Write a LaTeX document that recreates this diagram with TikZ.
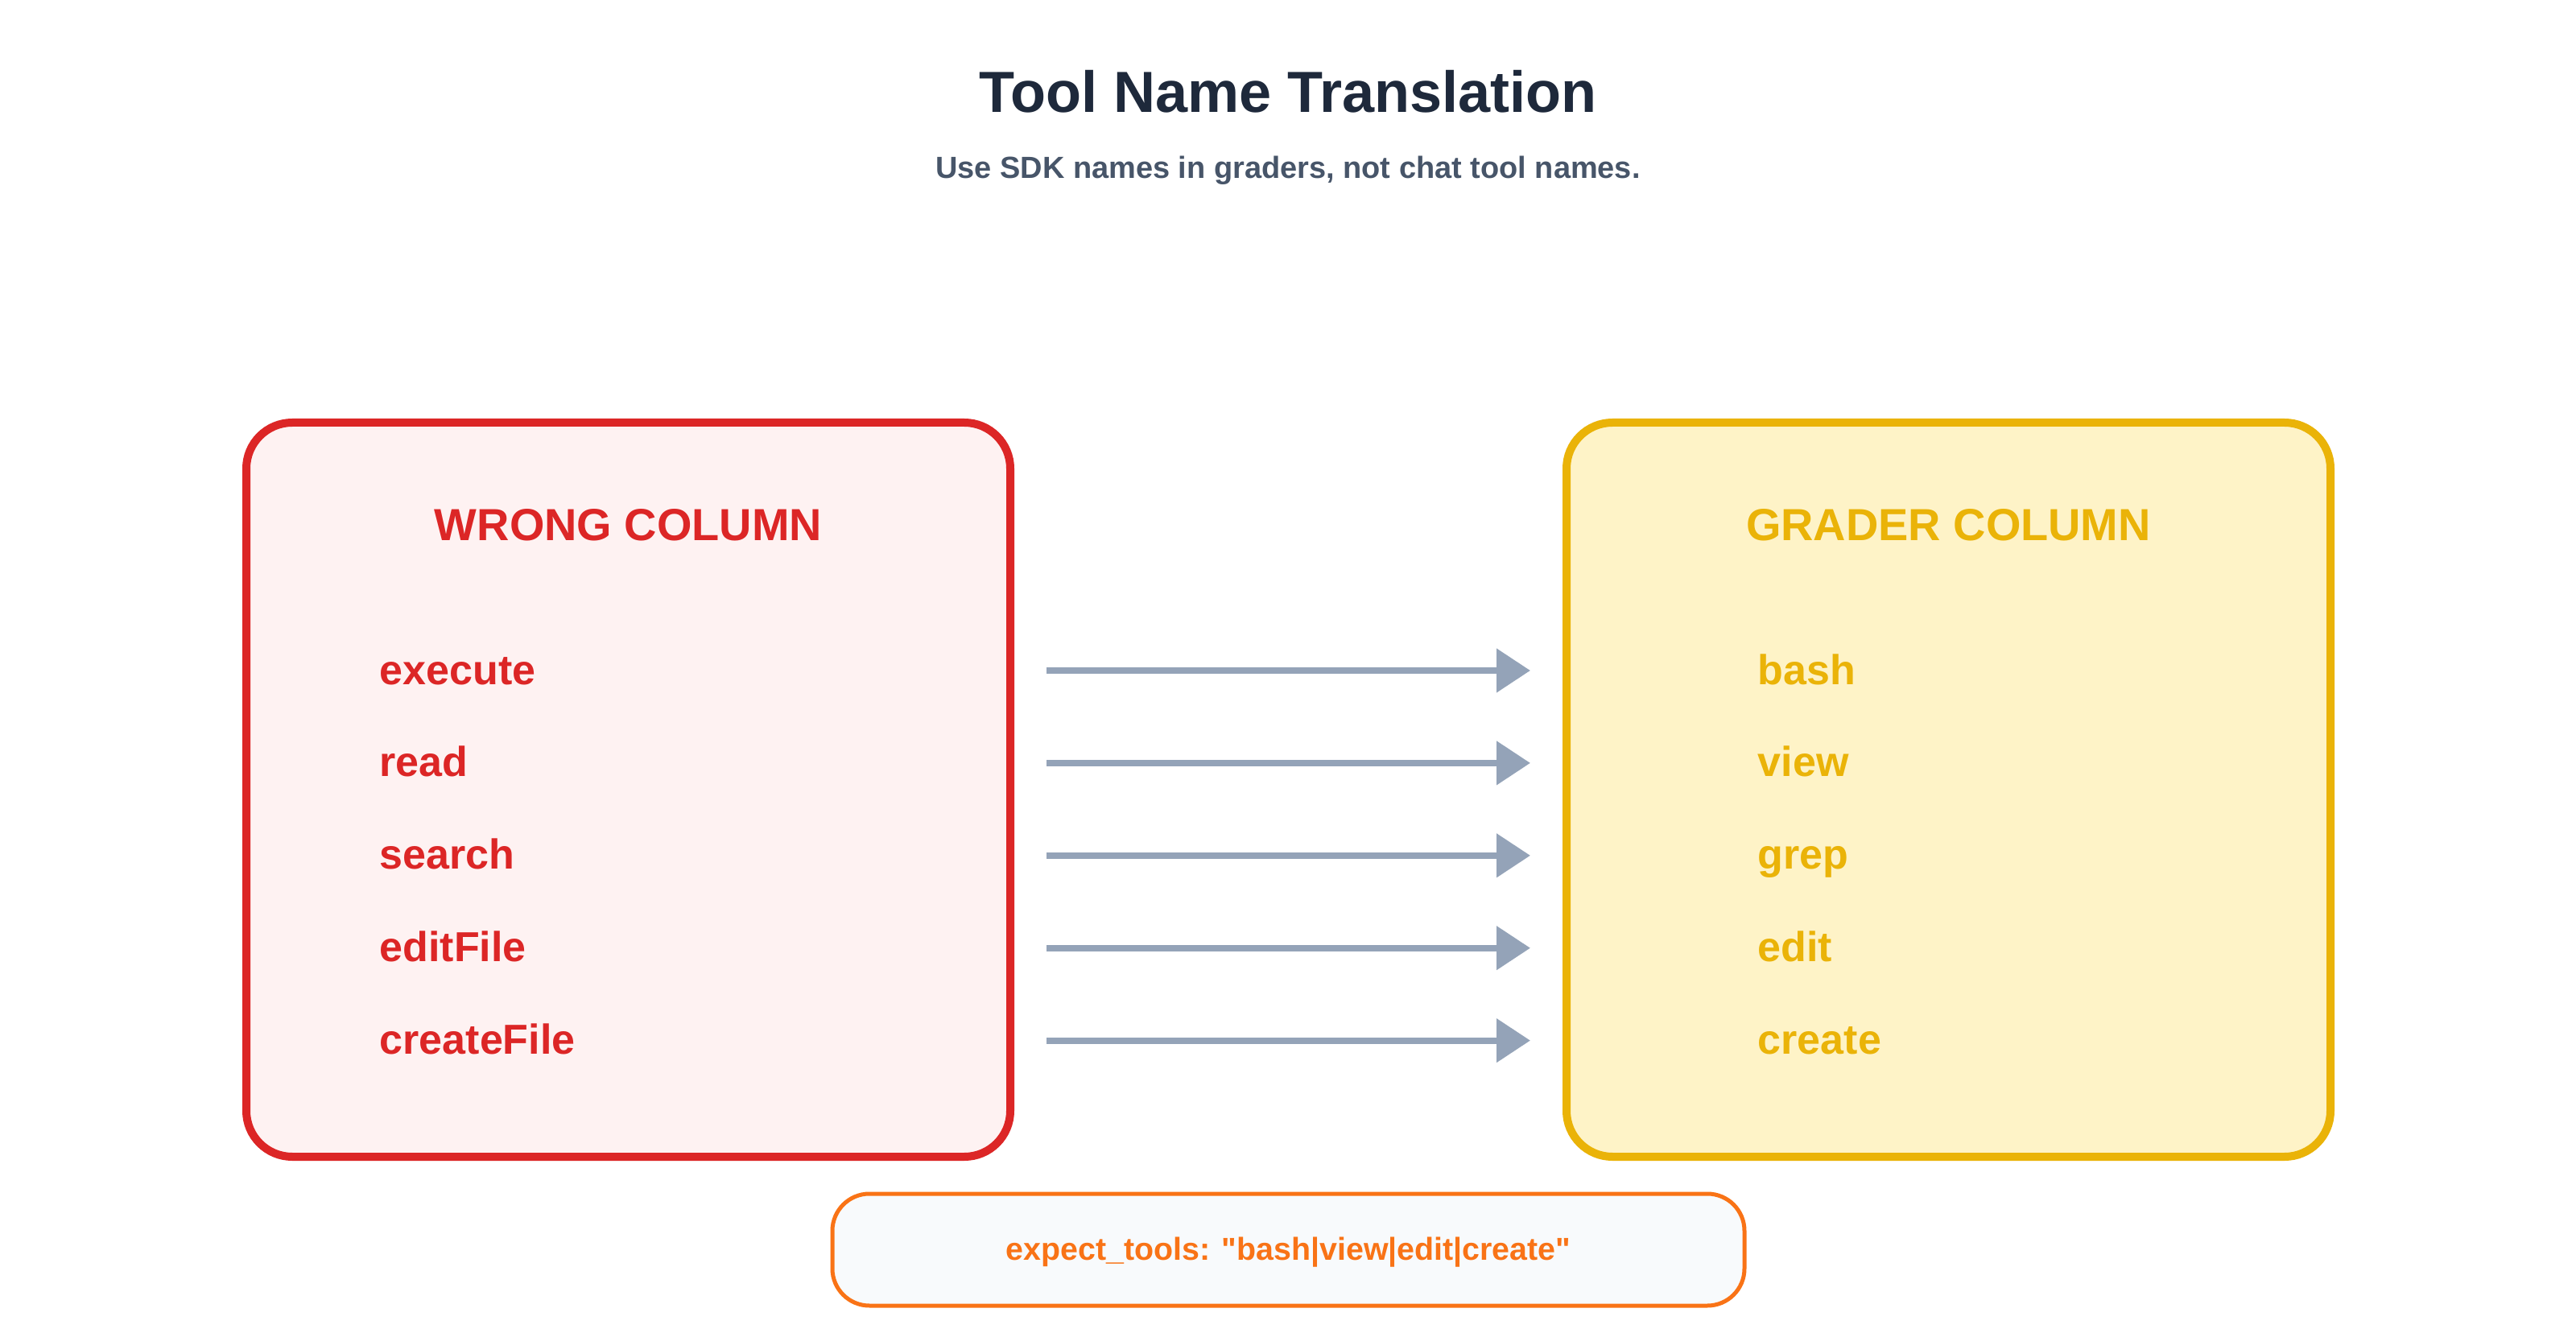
\documentclass[tikz,border=0pt]{standalone}
\usepackage{fontspec}
\setmainfont{Liberation Sans}
\usetikzlibrary{arrows.meta, positioning, calc}
\definecolor{titleink}{HTML}{1E293B}
\definecolor{subink}{HTML}{475569}
\definecolor{wrong}{HTML}{DC2626}
\definecolor{wrongbg}{HTML}{FEF2F2}
\definecolor{grader}{HTML}{EAB308}
\definecolor{graderbg}{HTML}{FEF3C7}
\definecolor{maplink}{HTML}{94A3B8}
\definecolor{expect}{HTML}{F97316}
\definecolor{expectbg}{HTML}{F8FAFC}
\tikzset{
  column/.style={
    rectangle, rounded corners=0.57cm, minimum width=9.49cm, minimum height=9.12cm,
    line width=0.1cm, draw=#1, fill=#1bg
  },
  header/.style={
    font=\fontsize{15.9}{18}\selectfont\bfseries, text=#1, anchor=base
  },
  toolname/.style={
    font=\fontsize{14.8}{17}\selectfont\bfseries, text=#1, inner sep=0pt,
    text width=4cm, align=left, text height=0.46cm, text depth=0.12cm
  },
  maparrow/.style={
    -{Triangle[length=0.42cm, width=0.53cm]}, line width=0.08cm, color=maplink
  },
  notebox/.style={
    rectangle, rounded corners=0.46cm, minimum width=11.33cm, minimum height=1.39cm,
    line width=0.05cm, draw=expect, fill=expectbg, text=expect,
    text height=0.3cm, text depth=0.05cm,
    font=\fontsize{11.2}{13}\selectfont\bfseries
  }
}

\begin{document}
\begin{tikzpicture}[node distance=0.555cm]
  \useasboundingbox (0,0) rectangle (32,16.5);
  \fill[white] (0,0) rectangle (32,16.5);

  % Title
  \node[font=\fontsize{20.5}{24}\selectfont\bfseries, text=titleink, anchor=base] (title) at (16,15.1) {Tool Name Translation};
  \node[font=\fontsize{10.8}{13}\selectfont\bfseries, text=subink, anchor=base] (subtitle) at (16,14.28) {Use SDK names in graders, not chat tool names.};

  % Columns
  \node[column=wrong] (wrong) at (7.805,6.69) {};
  \node[column=grader] (grader) at (24.205,6.69) {};
  \node[header=wrong] (wronghead) at (7.805,9.78) {WRONG COLUMN};
  \node[header=grader] (graderhead) at (24.205,9.78) {GRADER COLUMN};

  % Chat tool names
  \node[toolname=wrong, anchor=base west] (w1) at (4.71,8.0) {execute};
  \node[toolname=wrong, below=of w1] (w2) {read};
  \node[toolname=wrong, below=of w2] (w3) {search};
  \node[toolname=wrong, below=of w3] (w4) {editFile};
  \node[toolname=wrong, below=of w4] (w5) {createFile};

  % SDK names
  \node[toolname=grader, anchor=base west] (g1) at (21.83,8.0) {bash};
  \node[toolname=grader, below=of g1] (g2) {view};
  \node[toolname=grader, below=of g2] (g3) {grep};
  \node[toolname=grader, below=of g3] (g4) {edit};
  \node[toolname=grader, below=of g4] (g5) {create};

  % Mapping
  \draw[maparrow] ($(wrong.east |- w1)+(0.4,0)$) -- ($(grader.west |- g1)+(-0.4,0)$);
  \draw[maparrow] ($(wrong.east |- w2)+(0.4,0)$) -- ($(grader.west |- g2)+(-0.4,0)$);
  \draw[maparrow] ($(wrong.east |- w3)+(0.4,0)$) -- ($(grader.west |- g3)+(-0.4,0)$);
  \draw[maparrow] ($(wrong.east |- w4)+(0.4,0)$) -- ($(grader.west |- g4)+(-0.4,0)$);
  \draw[maparrow] ($(wrong.east |- w5)+(0.4,0)$) -- ($(grader.west |- g5)+(-0.4,0)$);

  % Grader setting
  \node[notebox] (expectline) at (16.005,0.975) {expect\_tools: \textquotedbl bash|view|edit|create\textquotedbl};

\end{tikzpicture}
\end{document}
